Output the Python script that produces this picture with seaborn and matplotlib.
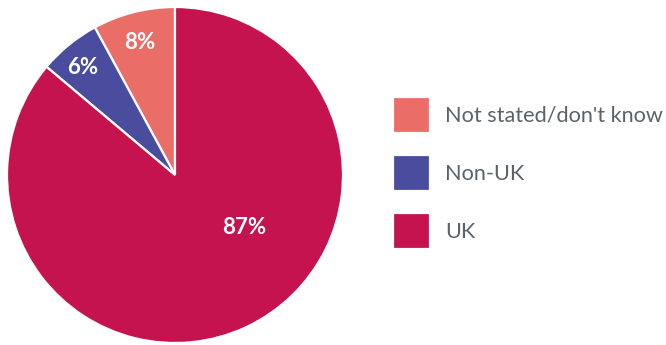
import matplotlib
matplotlib.use("Agg")
import matplotlib.pyplot as plt
import seaborn as sns

# Nationality breakdown
categories = ["Not stated/don't know", "Non-UK", "UK"]
shares = [8, 6, 87]
pct_labels = ["8%", "6%", "87%"]
colors = ["#EB6D67", "#4A4C9D", "#C51350"]

sns.set_theme(style="white")
plt.rcParams["font.family"] = ["Lato", "DejaVu Sans"]

fig = plt.figure(figsize=(6.66, 3.45), dpi=100)
ax = fig.add_axes([7 / 666, 2 / 345, 336 / 666, 336 / 345])

wedges, texts, autotexts = ax.pie(
    shares,
    colors=colors,
    startangle=90,
    counterclock=True,
    autopct="%1.0f%%",
    wedgeprops=dict(edgecolor="white", linewidth=1.6),
    textprops=dict(color="white", fontsize=16, fontweight="bold"),
)
# label placement inside each wedge
label_pos = [(-0.21, 0.79), (-0.55, 0.64), (0.41, -0.315)]
for t, lbl, pos in zip(autotexts, pct_labels, label_pos):
    t.set_text(lbl)
    t.set_position(pos)
    t.set_ha("center")
    t.set_va("center")
ax.set_aspect("equal")
ax.set_xlim(-1, 1)
ax.set_ylim(-1, 1)
ax.axis("off")

fs = 15.6
fig.legend(
    wedges,
    categories,
    loc="upper left",
    bbox_to_anchor=(393 / 666, 1 - 97 / 345),
    frameon=False,
    fontsize=fs,
    labelcolor="#58636B",
    handlelength=1.71,
    handleheight=2.18,
    handletextpad=0.69,
    labelspacing=1.02,
    borderpad=0,
    borderaxespad=0,
)

fig.savefig("out.png", dpi=100, facecolor="white")
